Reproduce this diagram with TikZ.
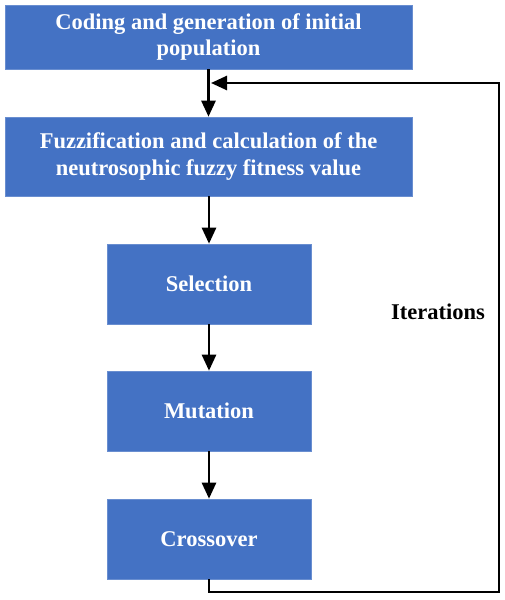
\documentclass[tikz,border=0pt]{standalone}
\usepackage{fontspec}
\setmainfont{Liberation Serif}
\usetikzlibrary{arrows.meta}
\definecolor{boxblue}{HTML}{4472C4}
\begin{document}
\begin{tikzpicture}[x=1pt,y=-1pt,
  blk/.style={fill=boxblue,draw=boxblue!80!white,line width=0.6pt,text=white,font=\bfseries\fontsize{22.5}{26.5}\selectfont,align=center,inner sep=0pt},
  tip/.style={-{Triangle[width=14pt,length=16pt]}},
  conn/.style={line width=2.6pt,tip},
  plain/.style={line width=2.6pt}]
\useasboundingbox (0,0) rectangle (505,600);
\node[blk,minimum width=407pt,minimum height=64pt] (b1) at (208.5,37) {Coding and generation of initial\\population};
\node[blk,minimum width=407pt,minimum height=79pt] (b2) at (208.5,156.5) {Fuzzification and calculation of the\\neutrosophic fuzzy fitness value};
\node[blk,minimum width=204pt,minimum height=80pt] (b3) at (209,284) {Selection};
\node[blk,minimum width=204pt,minimum height=80pt] (b4) at (209,411) {Mutation};
\node[blk,minimum width=204pt,minimum height=80pt] (b5) at (209,539) {Crossover};
\node[font=\bfseries\fontsize{22.5}{26}\selectfont,anchor=center] (it) at (438,312) {Iterations};
\coordinate (c1) at (209,592);
\coordinate (c2) at (499,592);
\coordinate (c3) at (499,83);
\coordinate (c4) at (211,83);
\draw[conn] (b1.south) -- (b2.north);
\draw[conn] (b2.south -| b3.north) -- (b3.north);
\draw[conn] (b3) -- (b4);
\draw[conn] (b4) -- (b5);
\draw[conn,line join=miter] (b5.south) -- (c1) -- (c2) -- (c3) -- (c4);
\end{tikzpicture}
\end{document}
